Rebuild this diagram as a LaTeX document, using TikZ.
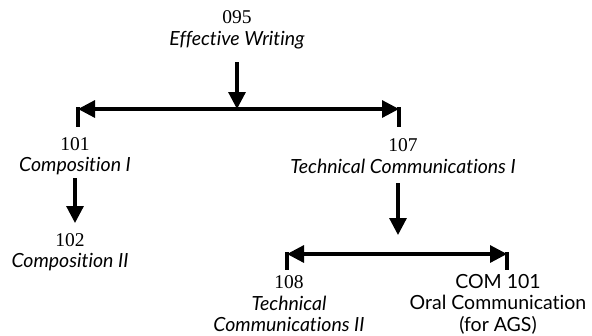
\documentclass[tikz,border=0pt]{standalone}
\usepackage{fontspec}
\setmainfont{Liberation Serif}
\newfontfamily\latofont[Ligatures=NoCommon]{Lato}
\usetikzlibrary{arrows.meta}
\tikzset{
  course/.style={align=center, inner sep=0pt, font=\fontsize{19.5}{21.5}\selectfont},
  arr/.style={line width=3.2pt, -{Triangle[length=17pt,width=17pt]}},
  barr/.style={line width=3.2pt, {Triangle[length=17pt,width=17pt]}-{Triangle[length=17pt,width=17pt]}},
  tick/.style={line width=3.2pt}
}
\begin{document}
\begin{tikzpicture}[x=1pt,y=-1pt]
\useasboundingbox (0,0) rectangle (592,335);
% nodes
\node[course] (n095) at (237,30) {095\\\latofont\itshape Effective Writing};
\node[course] (n101) at (75,156) {101\\\latofont\itshape Composition I};
\node[course] (n107) at (403,156) {107\\\latofont\itshape Technical Communications I};
\node[course] (n102) at (70,252) {102\\\latofont\itshape Composition II};
\node[course] (n108) at (289,304) {108\\\latofont\itshape Technical\\\latofont\itshape Communications II};
\node[course] (c101) at (498,304) {\latofont COM 101\\\latofont Oral Communication\\\latofont (for AGS)};
% coordinates
\coordinate (b1L) at (78,109);
\coordinate (b1R) at (399,109);
\coordinate (b1M) at (237,109);
\coordinate (b2L) at (287,254);
\coordinate (b2R) at (507,254);
\coordinate (t1L) at (78,127);
\coordinate (t1R) at (399,127);
\coordinate (t2L) at (287,270);
\coordinate (t2R) at (507,270);
\coordinate (s1) at (237,62);
\coordinate (s2) at (75,178);
\coordinate (a2) at (75,223);
\coordinate (s3) at (398,183);
\coordinate (a3) at (398,235);
% connectors
\draw[arr] (s1) -- (b1M);
\draw[barr] (b1L) -- (b1R);
\draw[tick] ([yshift=1.6pt]b1L) -- (t1L);
\draw[tick] ([yshift=1.6pt]b1R) -- (t1R);
\draw[arr] (s2) -- (a2);
\draw[arr] (s3) -- (a3);
\draw[barr] (b2L) -- (b2R);
\draw[tick] ([yshift=1.6pt]b2L) -- (t2L);
\draw[tick] ([yshift=1.6pt]b2R) -- (t2R);
\end{tikzpicture}
\end{document}
